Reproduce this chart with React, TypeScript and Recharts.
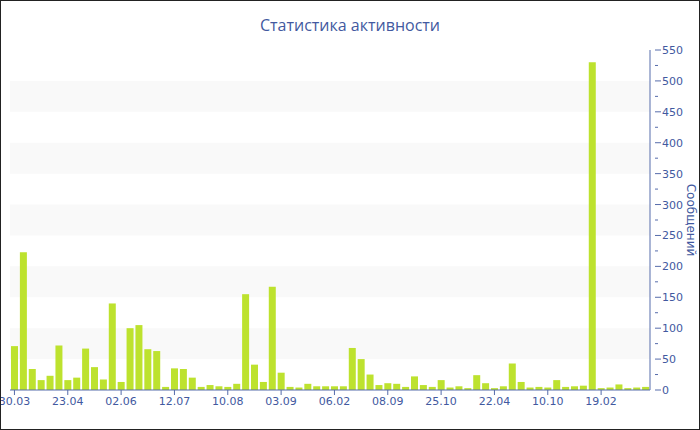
import { BarChart, Bar, XAxis, YAxis, ReferenceArea } from 'recharts';

// weekly message counts, one bar per period
const counts = [
  71, 223, 34, 16, 23, 72, 16, 20, 67, 37, 17, 140,
  13, 100, 105, 66, 63, 5, 35, 34, 20, 5, 8, 6,
  5, 10, 155, 41, 13, 167, 28, 5, 4, 10, 6, 6,
  6, 6, 68, 50, 25, 8, 11, 10, 5, 22, 8, 5,
  16, 4, 6, 3, 24, 11, 3, 6, 43, 13, 4, 5,
  4, 16, 5, 6, 7, 530, 3, 4, 9, 3, 4, 5,
];

// shown date labels (every 6th period)
const tickLabels = ['30.03', '23.04', '02.06', '12.07', '10.08', '03.09', '06.02', '08.09', '25.10', '22.04', '10.10', '19.02'];
const tickStep = 6;

const yTicks = [0, 25, 50, 75, 100, 125, 150, 175, 200, 225, 250, 275, 300, 325, 350, 375, 400, 425, 450, 475, 500, 525, 550];
const bands: Array<[number, number]> = [[50, 100], [150, 200], [250, 300], [350, 400], [450, 500]];

const TEXT = '#4259a0';
const AXIS = '#566cab';
const BAR = '#bde22e';

const data = counts.map((v, i) => ({ idx: i, value: v }));
const xTicks = tickLabels.map((_, i) => i * tickStep);

const YTick = ({ x, y, payload }: any) => {
  const major = payload.value % 50 === 0;
  return (
    <g>
      <line x1={x - 3} x2={major ? x + 3 : x} y1={y} y2={y} stroke={AXIS} strokeWidth={1} />
      {major && (
        <text x={x + 4} y={y} dy={4} fill={TEXT} fontSize={11} fontFamily="DejaVu Sans">
          {payload.value}
        </text>
      )}
    </g>
  );
};

export default function App() {
  return (
    <div style={{ position: 'absolute', left: 0, top: 0, width: 700, height: 430, border: '1px solid #222', boxSizing: 'border-box', background: '#fff' }}>
      <div style={{ position: 'absolute', left: 0, top: 13, width: 698, textAlign: 'center', fontFamily: '"Open Sans", sans-serif', fontSize: 16, color: TEXT }}>
        Статистика активности
      </div>
      <BarChart width={698} height={428} data={data} margin={{ top: 49, right: 9, left: 9, bottom: 0 }} barSize={7}>
        {bands.map(([a, b]) => (
          <ReferenceArea key={a} yAxisId="r" y1={a} y2={b} fill="#f9f9f9" fillOpacity={1} stroke="none" ifOverflow="visible" />
        ))}
        <XAxis
          dataKey="idx"
          type="category"
          ticks={xTicks}
          interval={0}
          tickFormatter={(v: number) => tickLabels[v / tickStep] ?? ''}
          stroke={AXIS}
          tickSize={5}
          tick={{ fill: TEXT, fontSize: 11, fontFamily: 'DejaVu Sans' }}
          height={39}
        />
        <YAxis
          yAxisId="r"
          orientation="right"
          domain={[0, 550]}
          ticks={yTicks}
          interval={0}
          stroke={AXIS}
          tickLine={false}
          tick={<YTick />}
          width={40}
          label={{
            content: ({ viewBox }: any) => (
              <text
                x={viewBox.x + viewBox.width + 1}
                y={viewBox.y + viewBox.height / 2}
                transform={`rotate(90 ${viewBox.x + viewBox.width + 1} ${viewBox.y + viewBox.height / 2})`}
                textAnchor="middle"
                dominantBaseline="central"
                fill={TEXT}
                fontSize={12}
                fontFamily="DejaVu Sans"
              >
                Сообщений
              </text>
            ),
          }}
        />
        <Bar yAxisId="r" dataKey="value" fill={BAR} isAnimationActive={false} />
      </BarChart>
    </div>
  );
}
